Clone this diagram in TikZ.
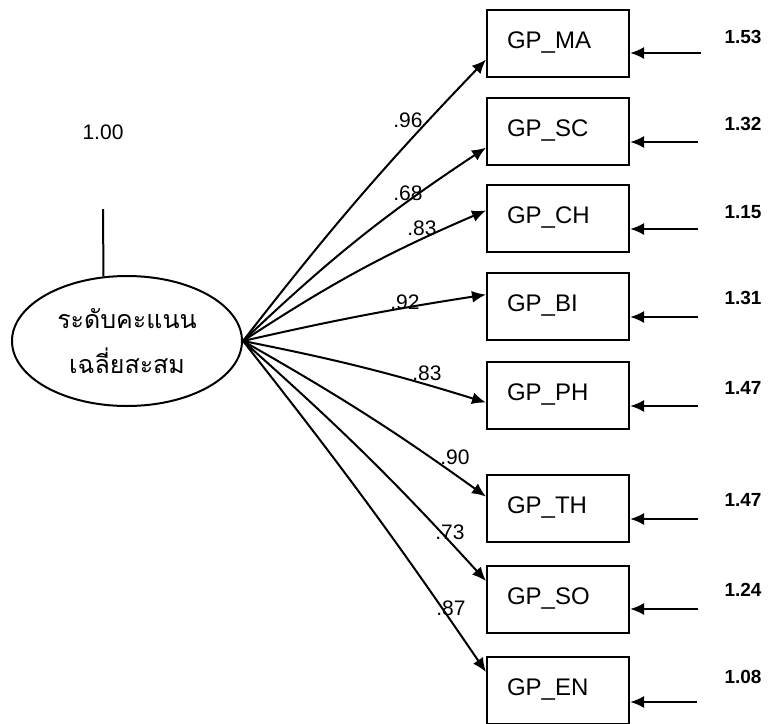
\documentclass[tikz,border=0pt]{standalone}
\usepackage{fontspec}
\setmainfont{Liberation Sans}
\newfontfamily\thaifont[Script=Thai]{Loma}
\usetikzlibrary{arrows.meta,shapes.geometric}

\begin{document}
\begin{tikzpicture}[x=0.5pt,y=-0.5pt,
  observed/.style={draw,line width=1pt,minimum width=71pt,minimum height=33.5pt,
    text width=51pt,align=left,inner xsep=10pt,font=\fontsize{12}{14}\selectfont},
  latent/.style={draw,ellipse,line width=1pt,minimum width=115pt,minimum height=65pt,
    inner sep=0pt,align=center,font=\thaifont\fontsize{12.5}{22.5}\selectfont},
  loading/.style={line width=1pt,-{Latex[length=7pt,width=6pt]}},
  resid/.style={line width=1.1pt,-{Latex[length=7pt,width=6pt]}},
  coef/.style={font=\fontsize{10.5}{12}\selectfont,inner sep=0pt},
  errv/.style={font=\bfseries\fontsize{9.5}{11}\selectfont,inner sep=0pt}]
  \useasboundingbox (0,0) rectangle (768,724);

  \node[latent] (gpa) at (127,341) {ระดับคะแนน\\เฉลี่ยสะสม};
  \coordinate (v) at (103,209);
  \draw[line width=1pt] (v) -- (gpa.110);
  \node[font=\fontsize{10.5}{12}\selectfont] (var) at (103,132) {1.00};

  \node[observed] (ma) at (558,43) {GP\_MA};
  \node[observed] (sc) at (558,131) {GP\_SC};
  \node[observed] (ch) at (558,218) {GP\_CH};
  \node[observed] (bi) at (558,306) {GP\_BI};
  \node[observed] (ph) at (558,395) {GP\_PH};
  \node[observed] (th) at (558,508) {GP\_TH};
  \node[observed] (so) at (558,599) {GP\_SO};
  \node[observed] (en) at (558,690) {GP\_EN};

  \draw[loading] (gpa.east) to[bend left=3] (ma.193);
  \draw[loading] (gpa.east) to[bend left=5] (sc.193);
  \draw[loading] (gpa.east) to[bend left=5] (ch.174);
  \draw[loading] (gpa.east) to[bend left=2] (bi.171);
  \draw[loading] (gpa.east) to[bend left=3] (ph.186);
  \draw[loading] (gpa.east) to[bend left=3] (th.171);
  \draw[loading] (gpa.east) to[bend left=3] (so.166);
  \draw[loading] (gpa.east) to[bend left=2] (en.166);

  \node[coef] (l1) at (408,120) {.96};
  \node[coef] (l2) at (408,193) {.68};
  \node[coef] (l3) at (422,228) {.83};
  \node[coef] (l4) at (405,302) {.92};
  \node[coef] (l5) at (427,373) {.83};
  \node[coef] (l6) at (455,457) {.90};
  \node[coef] (l7) at (450,532) {.73};
  \node[coef] (l8) at (451,608) {.87};

  \coordinate (e1) at (701,53);
  \coordinate (e2) at (698,142);
  \coordinate (e3) at (698,229);
  \coordinate (e4) at (698,317);
  \coordinate (e5) at (698,406);
  \coordinate (e6) at (698,519);
  \coordinate (e7) at (698,609);
  \coordinate (e8) at (697,702);
  \draw[resid] (e1) -- (e1 -| ma.east);
  \draw[resid] (e2) -- (e2 -| sc.east);
  \draw[resid] (e3) -- (e3 -| ch.east);
  \draw[resid] (e4) -- (e4 -| bi.east);
  \draw[resid] (e5) -- (e5 -| ph.east);
  \draw[resid] (e6) -- (e6 -| th.east);
  \draw[resid] (e7) -- (e7 -| so.east);
  \draw[resid] (e8) -- (e8 -| en.east);

  \node[errv] (r1) at (743,37) {1.53};
  \node[errv] (r2) at (743,124) {1.32};
  \node[errv] (r3) at (743,212) {1.15};
  \node[errv] (r4) at (743,298) {1.31};
  \node[errv] (r5) at (743,388) {1.47};
  \node[errv] (r6) at (743,500) {1.47};
  \node[errv] (r7) at (743,590) {1.24};
  \node[errv] (r8) at (743,677) {1.08};
\end{tikzpicture}
\end{document}
